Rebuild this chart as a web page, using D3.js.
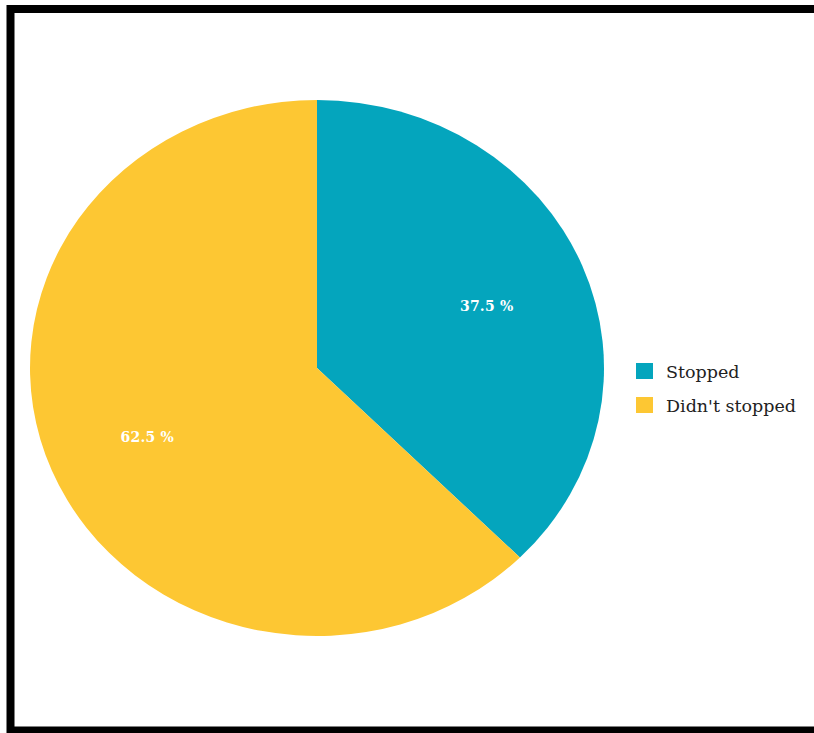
<!DOCTYPE html>
<html>
<head>
<meta charset="utf-8">
<script src="https://cdn.jsdelivr.net/npm/d3@7"></script>
<style>
  html, body { margin: 0; padding: 0; background: #fff; }
  svg { display: block; }
</style>
</head>
<body>
<svg id="chart" width="814" height="733"></svg>
<script>
// Share of people who stopped vs. did not
const categories = ["Stopped", "Didn't stopped"];
const values = [37.5, 62.5];
const colors = ["#04a5bd", "#fdc733"];

const svg = d3.select("#chart");
const W = 814, H = 733;

// frame
svg.append("rect").attr("x", 0).attr("y", 0).attr("width", W).attr("height", H).attr("fill", "#fff");
svg.append("rect")
  .attr("x", 10.5).attr("y", 9).attr("width", W + 20).attr("height", 721.5)
  .attr("fill", "none").attr("stroke", "#000").attr("stroke-width", 8);

// pie (slightly wider than tall)
const cx = 317, cy = 368, r = 268, sx = 287 / 268;
const g = svg.append("g").attr("transform", `translate(${cx},${cy}) scale(${sx},1)`);

const pie = d3.pie().sort(null).value(d => d)(values);
const arc = d3.arc().innerRadius(0).outerRadius(r);
const labelArc = d3.arc().innerRadius(r * 0.64).outerRadius(r * 0.64);

g.selectAll("path.slice").data(pie).join("path")
  .attr("class", "slice")
  .attr("d", arc)
  .attr("fill", (d, i) => colors[i]);

const fmt = v => d3.format(".1f")(v) + " %";
svg.append("g").attr("transform", `translate(${cx},${cy})`)
  .selectAll("text").data(pie).join("text")
  .attr("x", d => labelArc.centroid(d)[0] * sx)
  .attr("y", d => labelArc.centroid(d)[1] + 8.5)
  .attr("text-anchor", "middle")
  .attr("fill", "#fff")
  .attr("font-family", "'DejaVu Serif', serif")
  .attr("font-weight", "bold")
  .attr("font-size", 14)
  .attr("letter-spacing", 0.2)
  .text(d => fmt(d.data));

// legend
const legend = svg.append("g").attr("transform", "translate(636,363)");
const item = legend.selectAll("g").data(categories).join("g")
  .attr("transform", (d, i) => `translate(0,${i * 34})`);
item.append("rect").attr("width", 17).attr("height", 16)
  .attr("fill", (d, i) => colors[i]);
item.append("text")
  .attr("x", 30).attr("y", 14.5)
  .attr("font-family", "'DejaVu Serif', serif")
  .attr("font-size", 17.5)
  .attr("fill", "#222")
  .text(d => d);
</script>
</body>
</html>
